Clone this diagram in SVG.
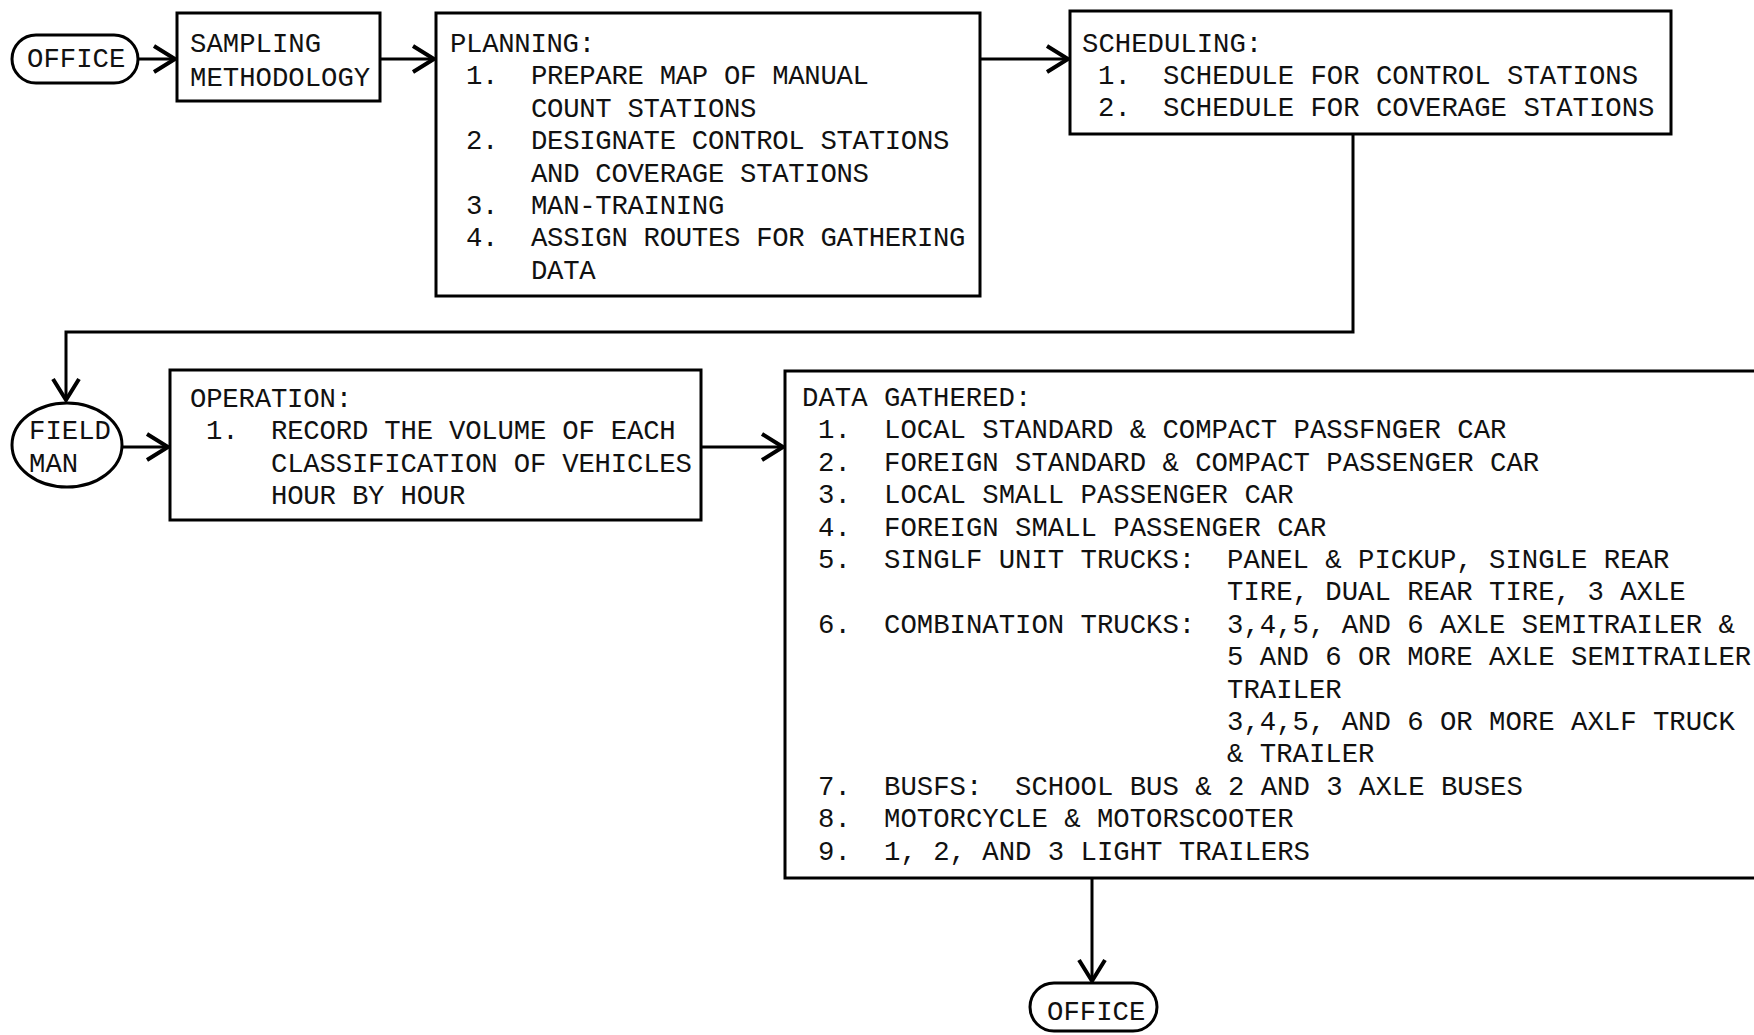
<svg xmlns="http://www.w3.org/2000/svg" width="1754" height="1035" viewBox="0 0 1754 1035">
<style>
text{font-family:"Liberation Mono","DejaVu Sans Mono",monospace;font-size:27.3px;fill:#111;}
#planning text{letter-spacing:-0.3px;}
#operation text{letter-spacing:-0.2px;}
.box{fill:#fff;stroke:#000;stroke-width:3;}
.conn{fill:none;stroke:#000;stroke-width:3;}
</style>
<defs>
<marker id="arr" markerUnits="userSpaceOnUse" viewBox="-26 -16 30 32" refX="0" refY="0" markerWidth="30" markerHeight="32" orient="auto">
<path d="M-21,-13 L0,0 L-21,13" fill="none" stroke="#000" stroke-width="4" stroke-linejoin="miter"/>
</marker>
</defs>
<rect width="1754" height="1035" fill="#fff"/>
<g id="connectors">
<path class="conn" d="M138,59 H175" marker-end="url(#arr)"/>
<path class="conn" d="M380,59 H434" marker-end="url(#arr)"/>
<path class="conn" d="M980,59 H1068" marker-end="url(#arr)"/>
<path class="conn" d="M1353,134 V332 H66 V400" marker-end="url(#arr)"/>
<path class="conn" d="M122,447 H168" marker-end="url(#arr)"/>
<path class="conn" d="M701,447 H783" marker-end="url(#arr)"/>
<path class="conn" d="M1092,878 V981" marker-end="url(#arr)"/>
</g>
<g id="office-start">
<rect class="box" x="12" y="35" width="126" height="48" rx="24"/>
<text x="27" y="67">OFFICE</text>
</g>
<g id="sampling">
<rect class="box" x="177" y="13" width="203" height="88"/>
<text x="190" y="52">SAMPLING</text>
<text x="190" y="86">METHODOLOGY</text>
</g>
<g id="planning">
<rect class="box" x="436" y="13" width="544" height="283"/>
<text x="450" y="52">PLANNING:</text>
<text x="466" y="84.4">1.</text><text x="531" y="84.4">PREPARE MAP OF MANUAL</text>
<text x="531" y="116.8">COUNT STATIONS</text>
<text x="466" y="149.2">2.</text><text x="531" y="149.2">DESIGNATE CONTROL STATIONS</text>
<text x="531" y="181.6">AND COVERAGE STATIONS</text>
<text x="466" y="214">3.</text><text x="531" y="214">MAN-TRAINING</text>
<text x="466" y="246.4">4.</text><text x="531" y="246.4">ASSIGN ROUTES FOR GATHERING</text>
<text x="531" y="278.8">DATA</text>
</g>
<g id="scheduling">
<rect class="box" x="1070" y="11" width="601" height="123"/>
<text x="1082" y="51.5">SCHEDULING:</text>
<text x="1098" y="84">1.</text><text x="1163" y="84">SCHEDULE FOR CONTROL STATIONS</text>
<text x="1098" y="116.4">2.</text><text x="1163" y="116.4">SCHEDULE FOR COVERAGE STATIONS</text>
</g>
<g id="field-man">
<ellipse class="box" cx="67" cy="445" rx="55" ry="42"/>
<text x="29" y="439">FIELD</text>
<text x="29" y="472">MAN</text>
</g>
<g id="operation">
<rect class="box" x="170" y="370" width="531" height="150"/>
<text x="190" y="407">OPERATION:</text>
<text x="206" y="439.4">1.</text><text x="271" y="439.4">RECORD THE VOLUME OF EACH</text>
<text x="271" y="471.8">CLASSIFICATION OF VEHICLES</text>
<text x="271" y="504.2">HOUR BY HOUR</text>
</g>
<g id="data-gathered">
<rect class="box" x="785" y="371" width="990" height="507"/>
<text x="802" y="406">DATA GATHERED:</text>
<text x="818" y="438.4">1.</text><text x="884" y="438.4">LOCAL STANDARD &amp; COMPACT PASSFNGER CAR</text>
<text x="818" y="470.8">2.</text><text x="884" y="470.8">FOREIGN STANDARD &amp; COMPACT PASSENGER CAR</text>
<text x="818" y="503.2">3.</text><text x="884" y="503.2">LOCAL SMALL PASSENGER CAR</text>
<text x="818" y="535.6">4.</text><text x="884" y="535.6">FOREIGN SMALL PASSENGER CAR</text>
<text x="818" y="568">5.</text><text x="884" y="568">SINGLF UNIT TRUCKS:</text><text x="1227" y="568">PANEL &amp; PICKUP, SINGLE REAR</text>
<text x="1227" y="600.4">TIRE, DUAL REAR TIRE, 3 AXLE</text>
<text x="818" y="632.8">6.</text><text x="884" y="632.8">COMBINATION TRUCKS:</text><text x="1227" y="632.8">3,4,5, AND 6 AXLE SEMITRAILER &amp;</text>
<text x="1227" y="665.2">5 AND 6 OR MORE AXLE SEMITRAILER</text>
<text x="1227" y="697.6">TRAILER</text>
<text x="1227" y="730">3,4,5, AND 6 OR MORE AXLF TRUCK</text>
<text x="1227" y="762.4">&amp; TRAILER</text>
<text x="818" y="794.8">7.</text><text x="884" y="794.8">BUSFS:</text><text x="1015" y="794.8">SCHOOL BUS &amp; 2 AND 3 AXLE BUSES</text>
<text x="818" y="827.2">8.</text><text x="884" y="827.2">MOTORCYCLE &amp; MOTORSCOOTER</text>
<text x="818" y="859.6">9.</text><text x="884" y="859.6">1, 2, AND 3 LIGHT TRAILERS</text>
</g>
<g id="office-end">
<rect class="box" x="1030" y="983" width="127" height="48" rx="24"/>
<text x="1047" y="1020">OFFICE</text>
</g>
</svg>
